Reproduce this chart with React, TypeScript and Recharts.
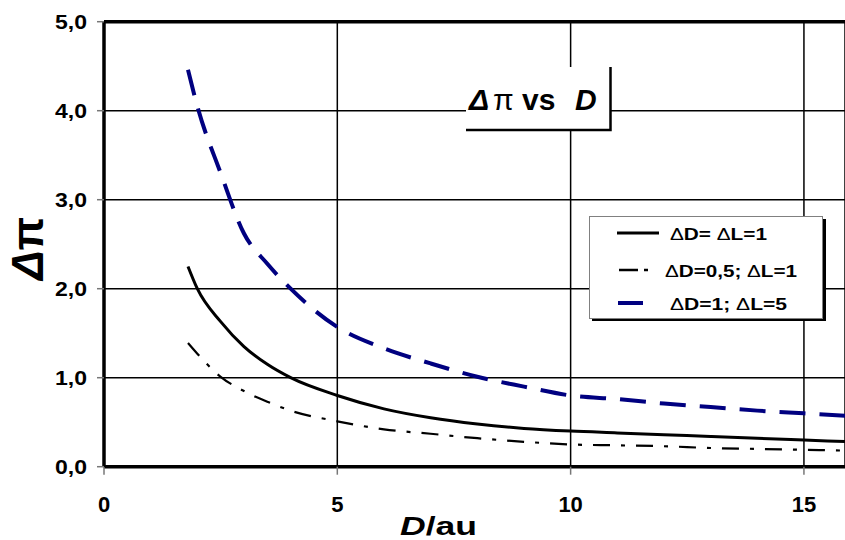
import React from 'react';
import { LineChart, Line, XAxis, YAxis, CartesianGrid, ReferenceLine } from 'recharts';

// D values (au) and the three curves
const dValues = [1.8, 2, 2.5, 3, 3.5, 4, 5, 6, 7, 8, 9, 10, 11, 12, 13, 14, 15, 16];
const dD1dL1 = [2.25, 2.0, 1.63, 1.35, 1.15, 1.0, 0.8, 0.65, 0.55, 0.48, 0.43, 0.4, 0.38, 0.36, 0.34, 0.32, 0.3, 0.28];
const dD05dL1 = [1.39, 1.27, 1.01, 0.85, 0.73, 0.63, 0.51, 0.42, 0.37, 0.32, 0.28, 0.25, 0.24, 0.23, 0.21, 0.2, 0.19, 0.18];
const dD1dL5 = [4.46, 4.05, 3.3, 2.62, 2.28, 2.0, 1.57, 1.33, 1.16, 1.01, 0.9, 0.8, 0.76, 0.71, 0.67, 0.63, 0.6, 0.57];

const xTicks = [0, 5, 10, 15];
const yTicks = [0, 1, 2, 3, 4, 5];

const legendLabels = [['D= ', 'L=1'], ['D=0,5; ', 'L=1'], ['D=1; ', 'L=5']];

const FONT = "'Liberation Sans', Arial, sans-serif";

const chartData = dValues.map((d, i) => ({
  d,
  a: dD1dL1[i],
  b: dD05dL1[i],
  c: dD1dL5[i],
}));

const fmt = (v: number) => v.toFixed(1).replace('.', ',');

const YTick = (props: any) => {
  const { x, y, payload } = props;
  return (
    <text x={x} y={y} dy={7} textAnchor="end" fontSize={20} fontWeight="bold" fontFamily={FONT}
      fill="#000" textLength={32} lengthAdjust="spacingAndGlyphs">
      {fmt(payload.value)}
    </text>
  );
};

const XTick = (props: any) => {
  const { x, y, payload } = props;
  return (
    <text x={x} y={y} dy={15} textAnchor="middle" fontSize={22} fontWeight="bold" fontFamily={FONT} fill="#000">
      {payload.value}
    </text>
  );
};

export default function App() {
  return (
    <div style={{ position: 'absolute', left: 0, top: 0, width: 845, height: 540, background: '#fff' }}>
      <LineChart width={845} height={540} data={chartData} margin={{ top: 21.7, right: 0, left: 44, bottom: 33.3 }}>
        <CartesianGrid stroke="#000" strokeWidth={1.5} />
        <XAxis
          type="number"
          dataKey="d"
          domain={[0, 15.88]}
          ticks={xTicks}
          allowDataOverflow
          height={40}
          tickSize={8}
          tickMargin={22}
          axisLine={{ stroke: '#000', strokeWidth: 3.5 }}
          tickLine={{ stroke: '#777', strokeWidth: 1.5 }}
          tick={<XTick />}
        />
        <YAxis
          type="number"
          domain={[0, 5]}
          ticks={yTicks}
          width={60}
          tickSize={7}
          tickMargin={10}
          axisLine={{ stroke: '#000', strokeWidth: 3.5 }}
          tickLine={{ stroke: '#777', strokeWidth: 1.5 }}
          tick={<YTick />}
        />
        <ReferenceLine y={5} stroke="#000" strokeWidth={3.5} />
        <Line type="monotone" dataKey="b" stroke="#000" strokeWidth={2.2} strokeDasharray="17 11 4 11" dot={false} isAnimationActive={false} />
        <Line type="monotone" dataKey="a" stroke="#000" strokeWidth={3} dot={false} isAnimationActive={false} />
        <Line type="monotone" dataKey="c" stroke="#000080" strokeWidth={4} strokeDasharray="26 14" dot={false} isAnimationActive={false} />
      </LineChart>

      <svg width={845} height={540} style={{ position: 'absolute', left: 0, top: 0, pointerEvents: 'none' }} fontFamily={FONT}>
        {/* axis titles */}
        <text x={43} y={248.5} transform="rotate(-90, 43, 248.5)" textAnchor="middle" fontSize={45} fontWeight="bold"
          textLength={63} lengthAdjust="spacingAndGlyphs">
          <tspan fontStyle="italic">Δ</tspan>π
        </text>
        <text x={400} y={535} fontSize={25} fontWeight="bold" textLength={77} lengthAdjust="spacingAndGlyphs">
          <tspan fontStyle="italic">D</tspan>/au
        </text>

        {/* title box */}
        <rect x={466} y={67} width={144} height={63} fill="#fff" />
        <path d="M466 130 H610.5 V67" fill="none" stroke="#000" strokeWidth={2.5} />
        <text y={110} fontSize={30} fontWeight="bold">
          <tspan x={469} fontStyle="italic">Δ</tspan>
          <tspan x={493} fontWeight="normal">π</tspan>
          <tspan x={522}>vs</tspan>
          <tspan x={575} fontStyle="italic">D</tspan>
        </text>

        {/* legend */}
        <rect x={592} y={219} width={234} height={102} fill="#000" />
        <rect x={589.5} y={216.5} width={233} height={102} fill="#fff" stroke="#808080" strokeWidth={1} />
        <line x1={617} x2={659} y1={233} y2={233} stroke="#000" strokeWidth={3} />
        <line x1={619} x2={649} y1={270} y2={270} stroke="#000" strokeWidth={2.5} strokeDasharray="19 6 4 30" />
        <line x1={618} x2={643} y1={303} y2={303} stroke="#000080" strokeWidth={4} />
        {legendLabels.map((l, i) => {
          const xs = [670, 665, 670];
          const ys = [240, 277, 310];
          const ws = [97, 132, 117];
          return (
            <text key={i} x={xs[i]} y={ys[i]} fontSize={16} fontWeight="bold" textLength={ws[i]} lengthAdjust="spacingAndGlyphs"
              style={{ whiteSpace: 'pre' }}>
              <tspan fontWeight="normal">Δ</tspan>{l[0]}<tspan fontWeight="normal">Δ</tspan>{l[1]}
            </text>
          );
        })}
      </svg>
    </div>
  );
}
